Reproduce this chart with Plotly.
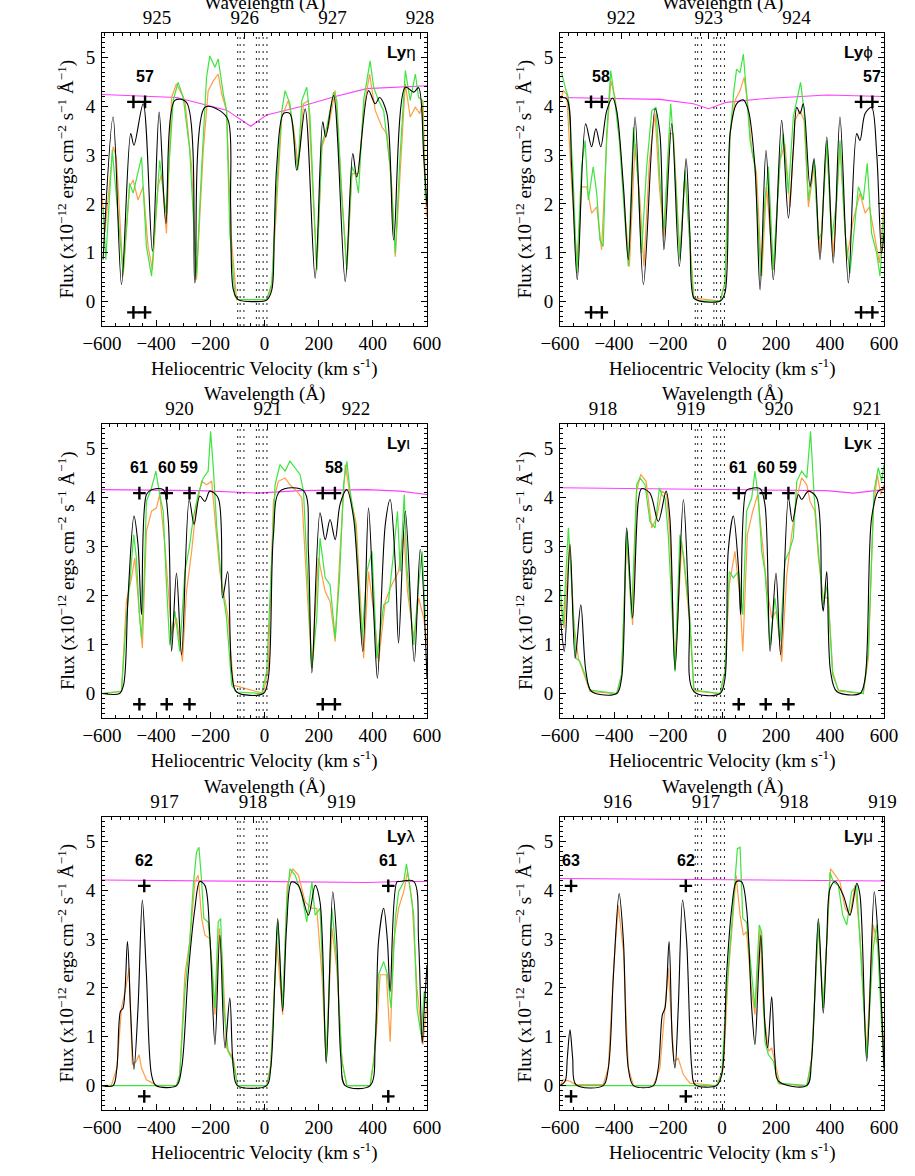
import plotly.graph_objects as go

C_KMS = 299792.458
FIG_W, FIG_H = 915, 1176

# Lyman lines shown in the six panels (rest wavelength in Angstrom)
line_names = ["η", "ϕ", "ι", "κ", "λ", "μ"]
rest_wave = [926.2256, 923.1504, 920.9631, 919.3514, 918.1294, 917.1806]
wave_ticks = [
    [925, 926, 927, 928],
    [922, 923, 924],
    [920, 921, 922],
    [918, 919, 920, 921],
    [917, 918, 919],
    [916, 917, 918, 919],
]

# dotted reference velocities (km/s), same in every panel
ism_v = [-99, -90, -76, -30, -20, -5, 9]

# "+" marks of blended higher-order lines and their labels
eta_marks = [-484, -441]
eta_labels = [(-440, "57")]
phi_marks = [-485, -445, 515, 557]
phi_labels = [(-448, "58"), (557, "57")]
iota_marks = [-462, -361, -277, 215, 260]
iota_labels = [(-463, "61"), (-361, "60"), (-277, "59"), (258, "58")]
kappa_marks = [62, 162, 246]
kappa_labels = [(60, "61"), (162, "60"), (246, "59")]
lam_marks = [-444, 457]
lam_labels = [(-444, "62"), (457, "61")]
mu_marks = [-559, -134]
mu_labels = [(-559, "63"), (-134, "62")]

# continuum (velocity, flux)
eta_cont = [(-600, 4.24), (-324, 4.18), (-140, 3.92), (-51, 3.59), (8, 3.82),
            (131, 3.99), (254, 4.19), (377, 4.36), (600, 4.42)]
phi_cont = [(-600, 4.18), (-230, 4.14), (-106, 4.05), (-50, 3.95), (17, 4.08),
            (141, 4.15), (388, 4.23), (600, 4.2)]
iota_cont = [(-600, 4.16), (-239, 4.14), (-29, 4.09), (131, 4.14), (378, 4.16),
             (501, 4.13), (600, 4.06)]
kappa_cont = [(-600, 4.2), (-230, 4.18), (17, 4.16), (388, 4.14), (486, 4.09),
              (600, 4.16)]
lam_cont = [(-600, 4.21), (-100, 4.19), (250, 4.18), (380, 4.16), (500, 4.18),
            (600, 4.18)]
mu_cont = [(-600, 4.24), (600, 4.19)]

# model profiles (velocity, flux)
eta_model = [(-596, 0.86), (-559, 3.78), (-528, 0.35), (-494, 3.44), (-482, 3.2),
             (-448, 4.05), (-414, 1.03), (-389, 3.88), (-364, 1.6), (-331, 4.12),
             (-288, 4.08), (-257, 0.38), (-220, 3.98), (-165, 3.91), (-134, 3.71),
             (-125, 1.94), (-115, 0.24), (-97, 0.04), (-40, 0.0), (8, 0.03),
             (27, 0.24), (36, 1.4), (45, 2.76), (70, 3.85), (94, 3.85), (119, 2.69),
             (150, 3.95), (187, 0.48), (215, 3.68), (226, 3.37), (255, 4.22),
             (298, 0.41), (326, 3.03), (341, 2.55), (384, 4.32), (409, 4.05),
             (425, 4.18), (452, 3.85), (477, 1.26), (520, 4.39), (551, 4.29),
             (569, 4.38), (588, 2.96), (600, 1.94)]
phi_model = [(-600, 4.18), (-575, 4.15), (-557, 2.76), (-536, 0.45), (-505, 3.64),
             (-483, 3.17), (-467, 3.54), (-449, 3.17), (-427, 3.91), (-405, 4.17),
             (-390, 3.91), (-365, 2.35), (-347, 0.86), (-322, 3.78), (-291, 0.35),
             (-248, 3.95), (-230, 3.44), (-215, 1.06), (-186, 3.64), (-158, 0.72),
             (-133, 2.93), (-119, 1.4), (-104, 0.07), (-81, 0.01), (-7, 0.01),
             (11, 0.18), (30, 3.44), (54, 4.05), (79, 4.13), (98, 3.91), (122, 2.76),
             (141, 0.24), (163, 3.1), (190, 0.45), (221, 3.71), (246, 1.71),
             (264, 3.1), (277, 3.98), (289, 3.85), (301, 4.05), (326, 2.35),
             (341, 2.93), (363, 0.86), (388, 3.37), (412, 0.79), (437, 3.78),
             (468, 0.38), (499, 3.44), (511, 3.3), (530, 3.85), (554, 3.98),
             (573, 3.03), (591, 0.99), (600, 1.4)]
iota_model = [(-600, 0.0), (-535, 0.0), (-520, 0.18), (-504, 1.95), (-482, 3.62),
              (-467, 3.04), (-454, 1.61), (-436, 4.06), (-417, 4.16), (-374, 4.16),
              (-356, 3.58), (-343, 0.86), (-325, 2.46), (-306, 0.79), (-278, 3.96),
              (-260, 3.45), (-239, 4.03), (-220, 3.92), (-202, 4.13), (-171, 3.99),
              (-155, 1.95), (-136, 2.49), (-121, 0.45), (-103, 0.03), (-4, 0.0),
              (14, 0.31), (33, 3.24), (57, 4.13), (144, 4.14), (162, 2.9),
              (175, 0.42), (205, 3.69), (224, 3.14), (242, 3.55), (261, 3.14),
              (279, 3.86), (304, 4.16), (329, 3.58), (363, 0.86), (384, 3.79),
              (403, 1.68), (417, 0.31), (446, 3.45), (464, 3.96), (483, 2.63),
              (495, 1.03), (520, 3.72), (553, 0.65), (575, 2.94), (600, 0.31)]
kappa_model = [(-598, 1.54), (-584, 0.86), (-563, 3.04), (-544, 0.72), (-523, 1.81),
               (-504, 0.45), (-483, 0.04), (-390, 0.0), (-372, 0.31), (-353, 3.38),
               (-331, 1.54), (-310, 3.92), (-298, 4.18), (-267, 4.09), (-236, 3.51),
               (-207, 4.13), (-193, 3.58), (-174, 0.48), (-143, 3.96), (-121, 1.54),
               (-104, 0.04), (-7, 0.0), (11, 0.31), (23, 2.9), (42, 3.62), (61, 2.56),
               (69, 1.61), (89, 4.13), (104, 4.18), (141, 4.18), (159, 3.86),
               (178, 0.86), (200, 2.46), (217, 0.79), (246, 3.99), (261, 3.51),
               (283, 4.06), (295, 3.96), (320, 4.13), (351, 3.99), (369, 1.95),
               (375, 1.68), (388, 2.49), (402, 0.45), (425, 0.04), (511, 0.0),
               (530, 0.31), (554, 3.58), (579, 4.13), (600, 4.18)]
lam_model = [(-600, 0.0), (-559, 0.0), (-545, 0.36), (-532, 1.52), (-522, 1.59),
             (-506, 2.95), (-495, 1.59), (-482, 0.33), (-467, 1.59), (-451, 3.8),
             (-436, 2.27), (-417, 0.22), (-401, 0.0), (-325, 0.0), (-306, 0.36),
             (-282, 2.27), (-257, 3.63), (-239, 4.18), (-220, 4.1), (-202, 3.08),
             (-183, 0.84), (-165, 3.08), (-146, 0.77), (-128, 1.79), (-115, 0.36),
             (-100, 0.0), (8, 0.0), (23, 0.36), (39, 2.27), (49, 3.42), (67, 1.52),
             (82, 3.29), (100, 4.17), (125, 4.1), (162, 3.49), (187, 4.1),
             (205, 3.76), (228, 0.46), (252, 3.97), (267, 2.95), (282, 0.56),
             (298, 0.0), (390, 0.0), (409, 0.9), (421, 2.95), (440, 3.63),
             (454, 2.95), (464, 1.93), (489, 4.17), (501, 4.18), (551, 4.18),
             (569, 2.95), (582, 0.87), (590, 1.59), (600, 2.47)]
mu_model = [(-600, 0.0), (-581, 0.09), (-573, 0.56), (-563, 1.14), (-553, 0.56),
            (-541, 0.02), (-440, 0.0), (-421, 0.36), (-402, 2.27), (-381, 3.93),
            (-365, 2.95), (-347, 0.36), (-328, 0.0), (-254, 0.0), (-236, 0.36),
            (-221, 1.45), (-211, 1.59), (-196, 2.95), (-184, 0.9), (-174, 0.36),
            (-162, 1.59), (-146, 3.8), (-131, 2.95), (-112, 0.36), (-100, 0.02),
            (-20, 0.0), (-1, 0.22), (17, 2.27), (36, 3.63), (54, 4.18), (73, 4.17),
            (91, 3.63), (110, 1.59), (122, 0.84), (135, 2.27), (144, 3.08),
            (159, 1.24), (169, 0.77), (184, 1.82), (196, 0.56), (209, 0.09),
            (314, 0.0), (332, 0.56), (357, 3.42), (375, 1.48), (388, 2.95),
            (400, 4.03), (419, 4.18), (449, 3.9), (474, 3.49), (499, 4.14),
            (511, 3.9), (536, 0.5), (564, 3.97), (579, 2.95), (600, 0.36)]

# observed spectra, first instrument (green)
eta_green = [(-596, 1.94), (-586, 0.86), (-562, 3.1), (-522, 0.58), (-498, 2.42),
             (-485, 2.22), (-454, 2.96), (-436, 1.13), (-417, 0.52), (-399, 2.08),
             (-387, 2.89), (-364, 1.81), (-337, 4.12), (-319, 4.49), (-300, 4.18),
             (-276, 3.1), (-251, 0.52), (-232, 2.76), (-214, 4.59), (-202, 5.03),
             (-183, 4.8), (-171, 4.97), (-152, 4.25), (-140, 3.91), (-128, 1.4),
             (-109, 0.11), (-97, 0.04), (8, 0.04), (27, 0.38), (45, 2.35),
             (64, 3.91), (76, 4.32), (94, 4.05), (113, 3.1), (123, 2.69), (138, 4.12),
             (156, 4.39), (168, 3.78), (193, 0.65), (212, 3.23), (230, 3.57),
             (255, 4.29), (267, 4.12), (286, 2.08), (304, 0.65), (323, 2.76),
             (335, 2.62), (347, 2.22), (366, 4.12), (390, 4.93), (403, 4.39),
             (421, 4.12), (440, 3.91), (464, 2.76), (483, 0.99), (501, 3.03),
             (520, 4.73), (538, 4.12), (557, 4.66), (569, 4.18), (582, 4.12),
             (594, 2.08)]
phi_green = [(-594, 4.69), (-581, 4.39), (-569, 4.18), (-553, 2.76), (-538, 0.58),
             (-520, 2.76), (-507, 3.3), (-495, 2.08), (-477, 2.76), (-464, 2.22),
             (-452, 1.26), (-440, 1.13), (-427, 3.44), (-412, 4.73), (-400, 4.25),
             (-380, 3.3), (-365, 2.08), (-347, 0.72), (-328, 3.57), (-310, 2.42),
             (-298, 0.99), (-279, 2.76), (-260, 3.91), (-244, 3.98), (-230, 2.49),
             (-215, 1.47), (-199, 3.1), (-190, 4.05), (-180, 3.3), (-156, 0.86),
             (-137, 2.69), (-121, 1.4), (-106, 0.07), (-81, 0.01), (-7, 0.01),
             (11, 0.38), (30, 3.44), (44, 4.32), (54, 4.76), (67, 4.69), (79, 5.07),
             (91, 4.25), (104, 3.3), (122, 2.76), (144, 0.52), (159, 2.08),
             (172, 2.76), (190, 0.65), (215, 2.89), (227, 3.44), (246, 2.22),
             (264, 3.78), (279, 4.18), (291, 4.49), (304, 3.91), (320, 2.08),
             (341, 2.89), (357, 1.26), (369, 1.4), (388, 3.3), (406, 1.26),
             (425, 2.08), (437, 3.3), (456, 1.4), (474, 0.58), (493, 1.74),
             (505, 2.35), (523, 2.08), (538, 2.83), (554, 1.4), (573, 0.99),
             (585, 0.52), (600, 1.74)]
iota_green = [(-600, 0.0), (-528, 0.04), (-510, 1.54), (-498, 2.22), (-483, 3.24),
              (-473, 2.77), (-463, 1.68), (-454, 1.13), (-445, 2.22), (-436, 3.92),
              (-417, 4.2), (-401, 4.54), (-387, 4.06), (-374, 3.72), (-362, 2.22),
              (-350, 0.99), (-331, 1.68), (-313, 0.86), (-294, 2.49), (-278, 2.97),
              (-263, 3.58), (-245, 4.06), (-226, 4.4), (-208, 4.54), (-199, 5.35),
              (-189, 4.61), (-177, 3.45), (-158, 2.22), (-140, 1.54), (-121, 0.17),
              (-103, 0.03), (-10, 0.0), (8, 0.45), (23, 2.22), (39, 4.26), (57, 4.67),
              (76, 4.54), (94, 4.74), (113, 4.61), (131, 4.47), (144, 4.13),
              (162, 2.08), (175, 0.52), (193, 1.54), (205, 3.17), (224, 2.36),
              (242, 2.22), (261, 1.13), (277, 2.36), (292, 4.26), (304, 4.74),
              (316, 4.13), (335, 3.45), (360, 1.13), (378, 2.49), (397, 2.9),
              (415, 0.72), (440, 1.81), (458, 1.88), (477, 2.9), (491, 3.72),
              (501, 2.49), (516, 4.06), (526, 2.56), (551, 0.99), (569, 2.22),
              (582, 2.9), (594, 1.54)]
kappa_green = [(-600, 2.22), (-588, 1.4), (-569, 3.38), (-557, 2.22), (-541, 0.72),
               (-526, 0.65), (-507, 0.38), (-489, 0.07), (-390, 0.0), (-372, 0.38),
               (-353, 3.31), (-335, 1.54), (-316, 4.26), (-304, 4.4), (-285, 4.26),
               (-267, 3.51), (-248, 3.38), (-232, 4.2), (-223, 4.06), (-211, 3.99),
               (-199, 3.24), (-174, 0.45), (-156, 3.24), (-141, 2.77), (-119, 1.54),
               (-104, 0.07), (-7, 0.0), (11, 0.45), (27, 2.49), (42, 2.36), (61, 2.49),
               (77, 1.61), (91, 3.72), (110, 3.99), (122, 4.54), (135, 3.99),
               (147, 2.9), (159, 2.49), (178, 0.99), (196, 1.95), (215, 1.06),
               (233, 2.7), (249, 2.9), (264, 3.17), (277, 4.33), (295, 4.54),
               (314, 4.4), (328, 5.35), (341, 4.06), (357, 2.9), (375, 1.81),
               (390, 2.22), (410, 0.38), (431, 0.07), (523, 0.0), (542, 0.86),
               (551, 2.22), (563, 4.13), (579, 4.61), (591, 4.33), (600, 4.67)]
lam_green = [(-600, 0.0), (-325, 0.0), (-313, 0.22), (-294, 1.93), (-276, 2.95),
             (-263, 4.1), (-251, 4.78), (-242, 4.88), (-232, 4.17), (-224, 3.42),
             (-208, 3.35), (-195, 2.54), (-183, 1.59), (-171, 3.35), (-162, 3.42),
             (-150, 1.59), (-134, 0.69), (-115, 0.5), (-100, 0.0), (8, 0.0),
             (23, 0.36), (39, 2.27), (49, 3.35), (67, 1.59), (82, 3.76), (94, 4.44),
             (113, 4.31), (138, 3.9), (156, 3.35), (175, 4.17), (187, 3.49),
             (205, 3.63), (228, 0.5), (249, 3.63), (267, 2.54), (286, 0.5),
             (304, 0.0), (390, 0.0), (405, 0.56), (421, 2.27), (440, 2.54),
             (454, 2.27), (467, 1.59), (483, 3.42), (495, 3.97), (514, 4.17),
             (524, 4.54), (536, 4.1), (551, 3.49), (563, 1.59), (578, 1.04),
             (590, 1.93), (600, 1.65)]
mu_green = [(-600, 0.0), (-20, 0.0), (-1, 0.22), (17, 1.93), (36, 3.29), (48, 4.17),
            (57, 4.85), (67, 4.88), (77, 3.42), (91, 3.35), (106, 2.54), (122, 1.59),
            (138, 3.29), (147, 3.15), (159, 0.9), (172, 0.63), (190, 0.5),
            (209, 0.05), (314, 0.0), (332, 0.5), (357, 3.35), (375, 1.59),
            (388, 2.95), (400, 4.37), (412, 4.17), (431, 4.1), (447, 3.49),
            (462, 3.29), (480, 3.97), (499, 4.1), (511, 2.95), (536, 0.56),
            (560, 2.81), (573, 3.29), (588, 1.59), (600, 0.29)]

# observed spectra, second instrument (orange)
eta_orange = [(-600, 2.22), (-590, 1.4), (-559, 3.17), (-547, 2.96), (-522, 0.52),
              (-498, 2.35), (-485, 2.49), (-467, 2.08), (-448, 2.35), (-430, 1.13),
              (-414, 0.65), (-393, 2.35), (-380, 2.62), (-362, 1.4), (-343, 4.18),
              (-325, 4.46), (-294, 4.12), (-269, 2.76), (-251, 0.45), (-226, 3.1),
              (-208, 4.32), (-189, 4.52), (-171, 4.66), (-158, 4.25), (-140, 3.91),
              (-124, 1.4), (-103, 0.04), (8, 0.04), (27, 0.31), (45, 2.08),
              (64, 3.78), (88, 4.12), (107, 3.57), (125, 2.76), (144, 4.05),
              (162, 4.12), (193, 0.65), (212, 3.17), (236, 3.57), (261, 4.32),
              (279, 2.76), (304, 0.65), (323, 2.62), (347, 2.62), (366, 3.91),
              (388, 4.66), (409, 3.91), (434, 3.57), (452, 3.44), (470, 2.35),
              (483, 0.92), (501, 2.76), (520, 4.46), (538, 3.78), (557, 3.98),
              (573, 3.85), (585, 4.12), (598, 1.74)]
phi_orange = [(-598, 4.12), (-588, 4.32), (-575, 4.25), (-557, 2.42), (-536, 0.72),
              (-520, 2.35), (-501, 2.35), (-483, 1.81), (-464, 1.94), (-446, 1.06),
              (-427, 3.3), (-412, 4.52), (-396, 4.18), (-378, 3.23), (-359, 1.81),
              (-343, 0.72), (-322, 3.23), (-304, 2.08), (-289, 0.72), (-269, 2.89),
              (-248, 3.85), (-232, 2.35), (-215, 1.33), (-195, 3.44), (-180, 3.44),
              (-156, 0.92), (-137, 2.62), (-119, 1.26), (-104, 0.07), (-7, 0.01),
              (11, 0.38), (30, 3.44), (48, 4.12), (67, 4.32), (82, 4.59), (94, 4.12),
              (110, 3.1), (128, 2.62), (147, 0.52), (165, 2.35), (190, 0.65),
              (215, 2.89), (233, 3.23), (252, 1.94), (270, 3.71), (289, 3.91),
              (304, 3.71), (320, 1.94), (341, 2.76), (363, 0.99), (388, 3.23),
              (412, 0.92), (437, 3.23), (462, 0.86), (486, 1.67), (511, 2.22),
              (530, 1.81), (546, 1.94), (567, 1.26), (583, 0.79), (600, 1.94)]
iota_orange = [(-600, 0.0), (-528, 0.05), (-510, 1.88), (-491, 2.36), (-479, 2.77),
               (-461, 1.54), (-451, 0.93), (-436, 3.31), (-417, 3.72), (-399, 3.79),
               (-387, 4.06), (-368, 3.04), (-356, 2.22), (-343, 1.2), (-325, 1.54),
               (-303, 0.65), (-288, 2.08), (-269, 2.9), (-251, 3.86), (-232, 4.33),
               (-214, 4.26), (-195, 4.33), (-183, 3.58), (-165, 2.49), (-134, 1.54),
               (-115, 0.17), (-4, 0.0), (14, 0.52), (33, 3.92), (51, 4.33), (76, 4.4),
               (94, 4.26), (119, 4.13), (138, 3.99), (156, 2.22), (175, 0.52),
               (199, 2.77), (224, 2.08), (242, 1.88), (261, 1.06), (279, 2.9),
               (298, 4.67), (316, 4.06), (339, 3.45), (366, 0.72), (384, 2.49),
               (403, 1.68), (421, 0.65), (446, 1.88), (470, 2.22), (495, 2.49),
               (514, 3.31), (528, 2.08), (551, 1.13), (569, 1.95), (588, 1.54),
               (600, 0.99)]
kappa_orange = [(-600, 1.88), (-585, 1.34), (-565, 3.1), (-548, 1.4), (-532, 0.72),
                (-507, 0.31), (-489, 0.04), (-390, 0.0), (-372, 0.38), (-353, 3.17),
                (-331, 1.4), (-316, 4.13), (-301, 4.47), (-281, 4.33), (-260, 3.38),
                (-242, 3.58), (-223, 4.13), (-205, 4.06), (-193, 3.24), (-174, 0.52),
                (-149, 3.1), (-119, 1.4), (-104, 0.05), (-7, 0.0), (11, 0.45),
                (27, 2.22), (48, 2.9), (67, 1.95), (77, 0.86), (94, 3.24), (114, 3.72),
                (132, 4.06), (147, 3.24), (165, 2.22), (184, 1.54), (202, 1.68),
                (221, 0.65), (240, 2.43), (258, 3.24), (277, 3.99), (295, 4.4),
                (314, 4.26), (326, 3.92), (344, 3.72), (357, 2.77), (375, 1.95),
                (394, 1.95), (410, 0.45), (431, 0.05), (523, 0.0), (542, 0.72),
                (560, 3.72), (575, 4.47), (588, 4.06), (600, 4.26)]
lam_orange = [(-600, 0.0), (-565, 0.01), (-545, 0.36), (-528, 1.59), (-512, 2.0),
              (-500, 2.4), (-488, 0.43), (-473, 0.5), (-463, 0.63), (-454, 0.36),
              (-436, 0.12), (-399, 0.01), (-325, 0.0), (-313, 0.22), (-294, 2.27),
              (-276, 2.95), (-257, 4.17), (-245, 4.31), (-232, 3.42), (-220, 3.08),
              (-202, 3.01), (-183, 1.45), (-167, 3.22), (-155, 2.54), (-140, 0.77),
              (-115, 0.56), (-100, 0.0), (8, 0.0), (23, 0.43), (45, 2.95), (67, 1.45),
              (84, 4.1), (104, 4.44), (125, 4.31), (150, 3.76), (175, 3.63),
              (193, 3.63), (212, 2.27), (228, 0.5), (249, 3.22), (267, 2.4),
              (286, 0.5), (304, 0.0), (390, 0.0), (409, 0.77), (427, 2.27),
              (450, 2.27), (464, 0.9), (477, 2.95), (495, 3.63), (514, 3.97),
              (528, 4.38), (545, 3.76), (563, 1.99), (585, 0.84), (600, 1.72)]
mu_orange = [(-600, 0.0), (-588, 0.12), (-563, 0.09), (-544, 0.02), (-440, 0.02),
             (-421, 0.36), (-400, 2.54), (-384, 3.69), (-365, 2.74), (-347, 0.36),
             (-328, 0.0), (-254, 0.0), (-230, 0.36), (-211, 1.59), (-199, 2.4),
             (-190, 1.59), (-178, 0.5), (-162, 0.56), (-143, 0.22), (-119, 0.05),
             (-20, 0.0), (5, 0.36), (23, 2.27), (40, 3.42), (52, 4.31), (67, 3.49),
             (79, 3.08), (91, 3.15), (110, 1.93), (122, 1.45), (141, 3.22),
             (153, 1.59), (172, 0.7), (184, 0.77), (200, 0.36), (215, 0.03),
             (314, 0.0), (332, 0.56), (357, 3.29), (375, 1.59), (388, 2.95),
             (402, 4.44), (419, 4.31), (437, 4.17), (456, 3.63), (474, 3.49),
             (493, 4.1), (511, 3.08), (536, 0.7), (560, 3.29), (579, 2.81),
             (591, 1.59), (600, 0.7)]

panels = [
    dict(model=eta_model, green=eta_green, orange=eta_orange, cont=eta_cont,
         marks=eta_marks, labels=eta_labels),
    dict(model=phi_model, green=phi_green, orange=phi_orange, cont=phi_cont,
         marks=phi_marks, labels=phi_labels),
    dict(model=iota_model, green=iota_green, orange=iota_orange, cont=iota_cont,
         marks=iota_marks, labels=iota_labels),
    dict(model=kappa_model, green=kappa_green, orange=kappa_orange, cont=kappa_cont,
         marks=kappa_marks, labels=kappa_labels),
    dict(model=lam_model, green=lam_green, orange=lam_orange, cont=lam_cont,
         marks=lam_marks, labels=lam_labels),
    dict(model=mu_model, green=mu_green, orange=mu_orange, cont=mu_cont,
         marks=mu_marks, labels=mu_labels),
]

# pixel frame of each plot box in the 3 x 2 grid
col_px = [(102, 427), (560, 884)]
row_px = [(33, 326), (424, 718), (817, 1110)]
V_RANGE = [-600, 600]
F_RANGE = [-0.5, 5.5]
MARK_Y_UP, MARK_Y_LOW, LABEL_Y = 4.09, -0.22, 4.61

SERIF = "Liberation Serif, Times New Roman, serif"
SANS = "Liberation Sans, Arial, sans-serif"
GREEN = "#3fe43f"
ORANGE = "#ff9d45"
MAGENTA = "#ff3cff"


def ax_id(letter, n):
    return letter if n == 1 else f"{letter}{n}"


def ax_key(letter, n):
    return f"{letter}axis" if n == 1 else f"{letter}axis{n}"


def fx(px):
    return px / FIG_W


def fy(px):
    return 1 - px / FIG_H


fig = go.Figure()
axes = {}
annotations = []
shapes = []

tick_font = dict(family=SERIF, size=19, color="black")
axis_common = dict(ticks="inside", ticklen=6, tickwidth=1, tickcolor="black",
                   showline=True, linecolor="black", linewidth=1,
                   showgrid=False, zeroline=False, tickfont=tick_font,
                   automargin=False)
title_font = dict(family=SERIF, size=19, color="black")

for i, p in enumerate(panels):
    n = i + 1
    r, c = divmod(i, 2)
    xa, ya, ta = ax_id("x", n), ax_id("y", n), ax_id("x", n + 6)
    x0, x1 = col_px[c]
    y0, y1 = row_px[r]

    lam_lo = rest_wave[i] * (1 + V_RANGE[0] / C_KMS)
    lam_hi = rest_wave[i] * (1 + V_RANGE[1] / C_KMS)

    axes[ax_key("x", n)] = dict(
        axis_common, domain=[fx(x0), fx(x1)], anchor=ya, range=V_RANGE,
        tick0=0, dtick=200,
        minor=dict(ticks="inside", ticklen=3, dtick=50, tickcolor="black"))
    axes[ax_key("x", n + 6)] = dict(
        axis_common, overlaying=xa, anchor=ya, side="top",
        range=[lam_lo, lam_hi], tickvals=wave_ticks[i],
        minor=dict(ticks="inside", ticklen=3, dtick=0.1, tick0=0,
                   tickcolor="black"))
    axes[ax_key("y", n)] = dict(
        axis_common, domain=[fy(y1), fy(y0)], anchor=xa, range=F_RANGE,
        tick0=0, dtick=1, mirror="ticks", ticklabelstandoff=2,
        minor=dict(ticks="inside", ticklen=3, dtick=0.1, tickcolor="black"))

    # keeps the wavelength axis alive
    fig.add_trace(go.Scatter(x=[lam_lo, lam_hi], y=[-9, -9], mode="lines",
                             opacity=0, xaxis=ta, yaxis=ya, hoverinfo="skip"))

    def add_line(data, color, width, shape="linear"):
        fig.add_trace(go.Scatter(
            x=[v for v, _ in data], y=[f for _, f in data], mode="lines",
            line=dict(color=color, width=width, shape=shape, smoothing=0.9),
            xaxis=xa, yaxis=ya, hoverinfo="skip"))

    add_line(p["cont"], MAGENTA, 1.1)
    add_line(p["orange"], ORANGE, 1.2)
    add_line(p["green"], GREEN, 1.2)
    add_line(p["model"], "black", 1.1, "spline")

    for y in (MARK_Y_UP, MARK_Y_LOW):
        fig.add_trace(go.Scatter(
            x=p["marks"], y=[y] * len(p["marks"]), mode="markers",
            marker=dict(symbol="cross-thin", size=9,
                        line=dict(color="black", width=2.4)),
            xaxis=xa, yaxis=ya, hoverinfo="skip"))

    for v, txt in p["labels"]:
        annotations.append(dict(
            x=v, y=LABEL_Y, xref=xa, yref=ya, text=f"<b>{txt}</b>",
            xanchor="center", yanchor="middle", showarrow=False,
            font=dict(family=SANS, size=16, color="black")))

    annotations.append(dict(
        x=445, y=5.1, xref=xa, yref=ya, xanchor="left", yanchor="middle",
        text=f"<b>Ly</b>{line_names[i]}", showarrow=False,
        font=dict(family=SANS, size=17, color="black")))

    for v in ism_v:
        shapes.append(dict(type="line", xref=xa, yref=ya, x0=v, x1=v,
                           y0=F_RANGE[0], y1=F_RANGE[1],
                           line=dict(color="#222", width=1, dash="2px,5px")))

    # axis titles
    annotations.append(dict(
        x=fx((x0 + x1) / 2), y=fy(y1 + 41), xref="paper", yref="paper",
        text="Heliocentric Velocity (km s<sup>-1</sup>)", showarrow=False,
        xanchor="center", yanchor="middle", font=title_font))
    annotations.append(dict(
        x=fx((x0 + x1) / 2), y=fy(y0 - 30), xref="paper", yref="paper",
        text="Wavelength (Å)", showarrow=False, xanchor="center",
        yanchor="middle", font=title_font))
    annotations.append(dict(
        x=fx(x0 - 36), y=fy((y0 + y1) / 2), xref="paper", yref="paper",
        text="Flux (x10<sup>−12</sup> ergs cm<sup>−2</sup> s<sup>−1</sup> "
             "Å<sup>−1</sup>)",
        showarrow=False, textangle=-90, xanchor="center", yanchor="middle",
        font=title_font))

fig.update_layout(
    width=FIG_W, height=FIG_H, margin=dict(l=0, r=0, t=0, b=0),
    paper_bgcolor="white", plot_bgcolor="white", showlegend=False,
    annotations=annotations, shapes=shapes, **axes)

fig.write_html("out.html", config={"displayModeBar": False},
               post_script="document.body.style.margin='0';")
